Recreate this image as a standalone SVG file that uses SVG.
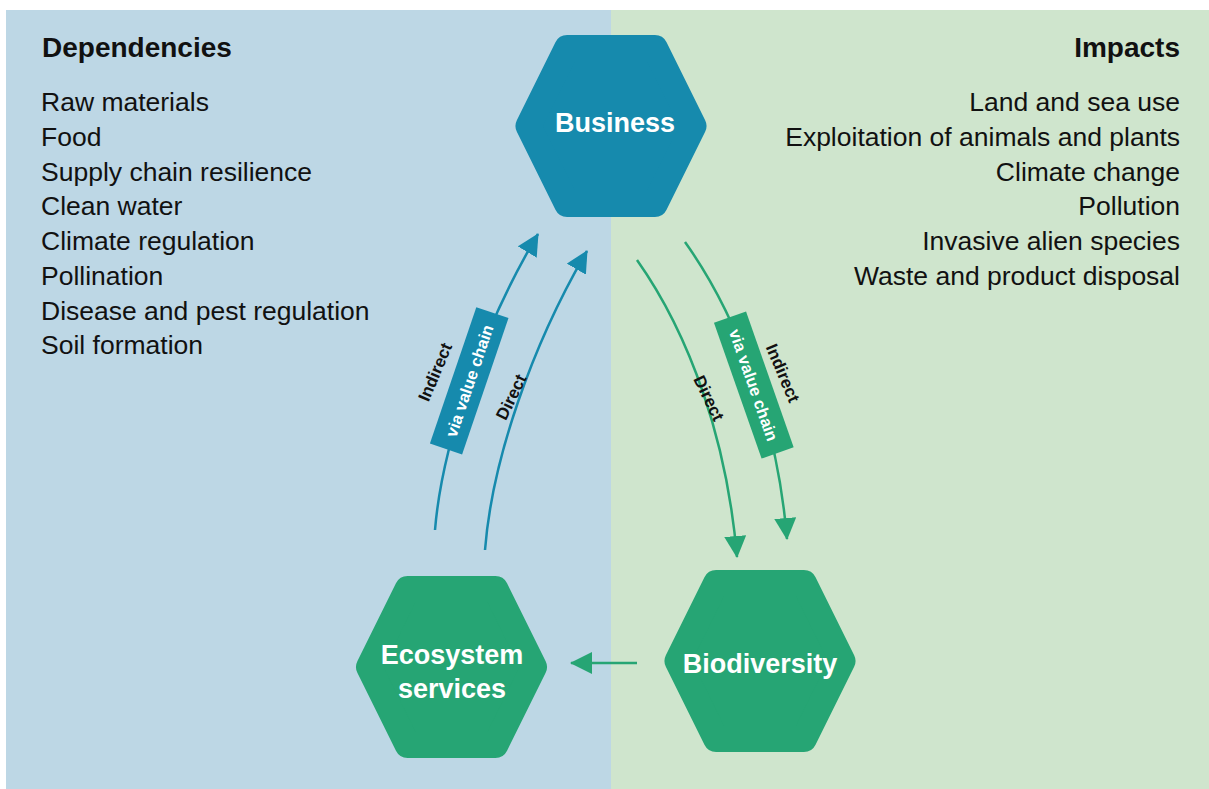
<svg xmlns="http://www.w3.org/2000/svg" width="1209" height="789" viewBox="0 0 1209 789">
<style>
.lst{font-family:"Liberation Sans",Arial,sans-serif;font-size:26.5px;fill:#111;}
.hd{font-family:"Liberation Sans",Arial,sans-serif;font-size:28px;font-weight:bold;fill:#111;}
.nd{font-family:"Liberation Sans",Arial,sans-serif;font-size:27px;font-weight:bold;fill:#fff;text-anchor:middle;}
.lb{font-family:"Liberation Sans",Arial,sans-serif;font-size:17px;font-weight:bold;fill:#111;text-anchor:middle;}
.lw{font-family:"Liberation Sans",Arial,sans-serif;font-size:16.5px;font-weight:bold;fill:#fff;text-anchor:middle;}
.teal{fill:#168aad;stroke:#168aad;}
.grn{fill:#26a574;stroke:#26a574;}
.lt{fill:none;stroke:#168aad;stroke-width:2.5;}
.lg{fill:none;stroke:#26a574;stroke-width:2.5;}
</style>
<defs>
<path id="hex" d="M-82.5,0 L-43.9,-78 L43.9,-78 L82.5,0 L43.9,78 L-43.9,78 Z" stroke-width="26" stroke-linejoin="round"/>
<marker id="aT" markerUnits="userSpaceOnUse" markerWidth="22" markerHeight="22" refX="21" refY="11" orient="auto" viewBox="0 0 22 22">
<path d="M0,0 L22,11 L0,22 Z" fill="#168aad"/>
</marker>
<marker id="aG" markerUnits="userSpaceOnUse" markerWidth="22" markerHeight="22" refX="21" refY="11" orient="auto" viewBox="0 0 22 22">
<path d="M0,0 L22,11 L0,22 Z" fill="#26a574"/>
</marker>
</defs>
<rect x="6" y="10" width="605" height="779" fill="#bdd7e5"/>
<rect x="611" y="10" width="598" height="779" fill="#cfe5cd"/>

<g id="dependencies">
<text class="hd" x="42" y="57">Dependencies</text>
<text class="lst" x="41" y="111">Raw materials</text>
<text class="lst" x="41" y="145.5">Food</text>
<text class="lst" x="41" y="180.5">Supply chain resilience</text>
<text class="lst" x="41" y="215">Clean water</text>
<text class="lst" x="41" y="250">Climate regulation</text>
<text class="lst" x="41" y="284.5">Pollination</text>
<text class="lst" x="41" y="319.5">Disease and pest regulation</text>
<text class="lst" x="41" y="354">Soil formation</text>
</g>

<g id="impacts" text-anchor="end">
<text class="hd" x="1180" y="57">Impacts</text>
<text class="lst" x="1180" y="111">Land and sea use</text>
<text class="lst" x="1180" y="145.5">Exploitation of animals and plants</text>
<text class="lst" x="1180" y="180.5">Climate change</text>
<text class="lst" x="1180" y="215">Pollution</text>
<text class="lst" x="1180" y="250">Invasive alien species</text>
<text class="lst" x="1180" y="284.5">Waste and product disposal</text>
</g>

<g id="connectors">
<path class="lt" d="M435,530 C442,445 482,328 538,234" marker-end="url(#aT)"/>
<path class="lt" d="M485,550 C492,460 532,345 587,251" marker-end="url(#aT)"/>
<path class="lg" d="M637,260 C690,335 727,440 737,557" marker-end="url(#aG)"/>
<path class="lg" d="M685,242 C737,315 777,420 787,539" marker-end="url(#aG)"/>
<path class="lg" d="M637,663 L571,663" marker-end="url(#aG)"/>
<g transform="translate(469.2,380.8) rotate(18.8)">
<rect x="-17" y="-72" width="34" height="144" fill="#168aad"/>
</g>
<text class="lw" transform="translate(469.2,380.8) rotate(-71.2)" y="6">via value chain</text>
<text class="lb" transform="translate(435,372) rotate(-67)" y="6">Indirect</text>
<text class="lb" transform="translate(511,397) rotate(-64)" y="6">Direct</text>
<g transform="translate(753.8,385) rotate(-19.3)">
<rect x="-17" y="-72" width="34" height="144" fill="#26a574"/>
</g>
<text class="lw" transform="translate(753.8,385) rotate(70.7)" y="6">via value chain</text>
<text class="lb" transform="translate(783,373) rotate(67)" y="6">Indirect</text>
<text class="lb" transform="translate(709,398) rotate(64)" y="6">Direct</text>
</g>

<g id="business">
<use href="#hex" class="teal" transform="translate(611,126)"/>
<text class="nd" x="615" y="132">Business</text>
</g>
<g id="ecosystem-services">
<use href="#hex" class="grn" transform="translate(451.5,667)"/>
<text class="nd" x="452" y="664">Ecosystem</text>
<text class="nd" x="452" y="698">services</text>
</g>
<g id="biodiversity">
<use href="#hex" class="grn" transform="translate(760,661)"/>
<text class="nd" x="760" y="673">Biodiversity</text>
</g>
</svg>
